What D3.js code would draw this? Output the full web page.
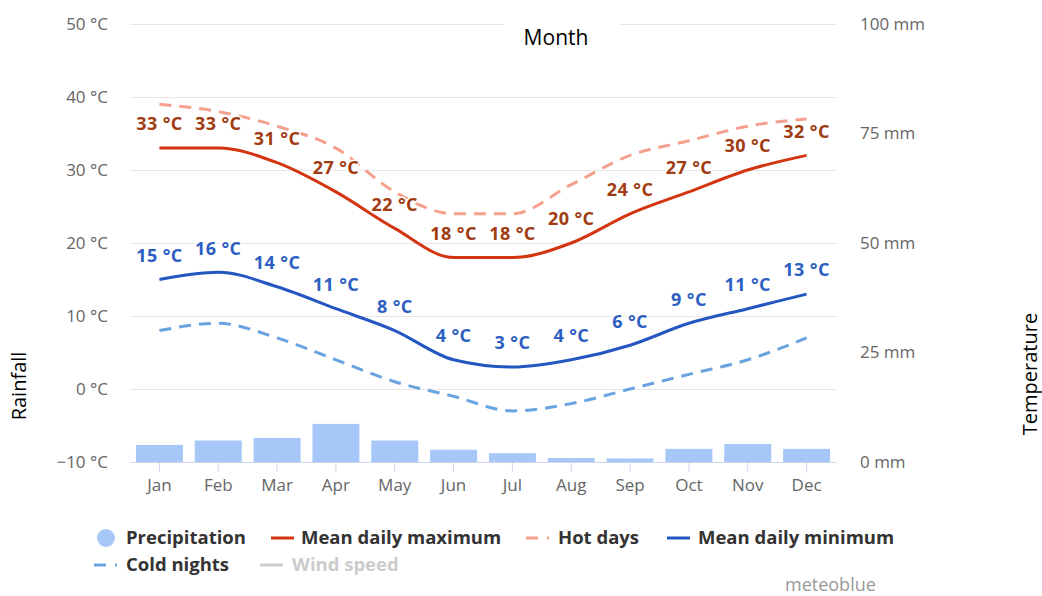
<!DOCTYPE html>
<html>
<head>
<meta charset="utf-8">
<script src="https://cdn.jsdelivr.net/npm/d3@7"></script>
<style>
  html, body { margin: 0; padding: 0; background: #fff; }
  svg { display: block; font-family: "Open Sans", sans-serif; }
</style>
</head>
<body>
<svg id="chart" width="1042" height="596"></svg>
<script>
const months = ["Jan","Feb","Mar","Apr","May","Jun","Jul","Aug","Sep","Oct","Nov","Dec"];
const precipitation = [3.9, 4.9, 5.5, 8.7, 4.9, 2.8, 2.0, 0.9, 0.8, 3.0, 4.1, 3.0];
const meanMax = [33, 33, 31, 27, 22, 18, 18, 20, 24, 27, 30, 32];
const hotDays = [39, 38, 36, 33, 27, 24, 24, 28, 32, 34, 36, 37];
const meanMin = [15, 16, 14, 11, 8, 4, 3, 4, 6, 9, 11, 13];
const coldNights = [8, 9, 7, 4, 1, -1, -3, -2, 0, 2, 4, 7];
const tempTicks = [-10, 0, 10, 20, 30, 40, 50];
const rainTicks = [0, 25, 50, 75, 100];

const svg = d3.select("#chart");
const plotLeft = 130, plotRight = 836, plotTop = 24, plotBottom = 462;

const xBand = d3.scaleBand().domain(months).range([plotLeft, plotRight]);
const xm = d => xBand(d) + xBand.bandwidth() / 2;
const yT = d3.scaleLinear().domain([-10, 50]).range([plotBottom, plotTop]);
const yR = d3.scaleLinear().domain([0, 100]).range([plotBottom, plotTop]);

// gridlines
svg.append("g").selectAll("line").data(tempTicks.filter(t => t > -10)).join("line")
  .attr("x1", plotLeft).attr("x2", plotRight)
  .attr("y1", d => yT(d) + 0.5).attr("y2", d => yT(d) + 0.5)
  .attr("stroke", "#e6e6e6").attr("stroke-width", 1);

// left axis labels
svg.append("g").selectAll("text").data(tempTicks).join("text")
  .attr("x", 108).attr("y", d => yT(d)).attr("dy", "0.35em")
  .attr("text-anchor", "end").attr("fill", "#666").attr("font-size", 17)
  .text(d => (d < 0 ? "\u2212" + Math.abs(d) : d) + " °C");

// right axis labels
svg.append("g").selectAll("text").data(rainTicks).join("text")
  .attr("x", 860).attr("y", d => yR(d)).attr("dy", "0.35em")
  .attr("text-anchor", "start").attr("fill", "#666").attr("font-size", 17)
  .text(d => d + " mm");

// bars
const bw = 47;
svg.append("g").selectAll("rect").data(months).join("rect")
  .attr("x", (d) => xm(d) - bw / 2)
  .attr("width", bw)
  .attr("y", (d, i) => yR(precipitation[i]))
  .attr("height", (d, i) => yR(0) - yR(precipitation[i]))
  .attr("fill", "#a6c7f7");

// x axis
svg.append("line").attr("x1", plotLeft).attr("x2", plotRight).attr("y1", plotBottom + 0.5).attr("y2", plotBottom + 0.5)
  .attr("stroke", "#ccd6eb").attr("stroke-width", 1);
svg.append("g").selectAll("line").data(months).join("line")
  .attr("x1", d => xm(d)).attr("x2", d => xm(d)).attr("y1", plotBottom).attr("y2", plotBottom + 10)
  .attr("stroke", "#ccd6eb");
svg.append("g").selectAll("text").data(months).join("text")
  .attr("x", d => xm(d)).attr("y", 485).attr("dy", "0.35em")
  .attr("text-anchor", "middle").attr("fill", "#666").attr("font-size", 17)
  .text(d => d);

// lines
const line = d3.line().x((d, i) => xm(months[i])).y(d => yT(d)).curve(d3.curveMonotoneX);
function drawLine(data, color, dash) {
  svg.append("path").attr("d", line(data)).attr("fill", "none")
    .attr("stroke", color).attr("stroke-width", 3)
    .attr("stroke-dasharray", dash || null).attr("stroke-linecap", "butt");
}
drawLine(hotDays, "#f5a08c", "12,8");
drawLine(coldNights, "#6aa4e0", "12,8");
drawLine(meanMax, "#d33511");
drawLine(meanMin, "#2456c2");

// data labels
function drawLabels(data, color) {
  svg.append("g").selectAll("text").data(data).join("text")
    .attr("x", (d, i) => xm(months[i])).attr("y", d => yT(d) - 24).attr("dy", "0.35em")
    .attr("text-anchor", "middle").attr("fill", color)
    .attr("font-size", 18).attr("font-weight", "bold").attr("letter-spacing", 0.4)
    .attr("stroke", "#fff").attr("stroke-width", 3).attr("paint-order", "stroke")
    .attr("stroke-linejoin", "round")
    .text(d => d + " °C");
}
drawLabels(meanMax, "#a13b12");
drawLabels(meanMin, "#2d5fc2");

// title
svg.append("rect").attr("x", 503).attr("y", 14).attr("width", 116).attr("height", 44).attr("fill", "#fff");
svg.append("text").attr("x", 556).attr("y", 38).attr("dy", "0.35em").attr("text-anchor", "middle")
  .attr("font-size", 21).attr("fill", "#000").text("Month");

// axis titles
svg.append("text").attr("transform", "translate(19,386) rotate(-90)").attr("dy", "0.35em")
  .attr("text-anchor", "middle").attr("font-size", 20).attr("fill", "#000").text("Rainfall");
svg.append("text").attr("transform", "translate(1030,374) rotate(-90)").attr("dy", "0.35em")
  .attr("text-anchor", "middle").attr("font-size", 20).attr("fill", "#000").text("Temperature");

// legend
const legend = svg.append("g").attr("font-size", 18.5).attr("font-weight", "bold");
const legendItems = [
  {name: "Precipitation", type: "circle", color: "#a6c7f7", sx: 97, tx: 126, y: 538, tc: "#333"},
  {name: "Mean daily maximum", type: "line", color: "#d33511", sx: 271, tx: 301, y: 538, tc: "#333"},
  {name: "Hot days", type: "dash", color: "#f5a08c", sx: 526, tx: 558, y: 538, tc: "#333"},
  {name: "Mean daily minimum", type: "line", color: "#2456c2", sx: 667, tx: 698, y: 538, tc: "#333"},
  {name: "Cold nights", type: "dash", color: "#6aa4e0", sx: 94, tx: 126, y: 565, tc: "#333"},
  {name: "Wind speed", type: "line", color: "#cccccc", sx: 260, tx: 292, y: 565, tc: "#cccccc"}
];
legendItems.forEach(it => {
  if (it.type === "circle") {
    legend.append("circle").attr("cx", it.sx + 9).attr("cy", it.y).attr("r", 9).attr("fill", it.color);
  } else if (it.type === "line") {
    legend.append("line").attr("x1", it.sx).attr("x2", it.sx + 23).attr("y1", it.y).attr("y2", it.y)
      .attr("stroke", it.color).attr("stroke-width", 3);
  } else {
    legend.append("line").attr("x1", it.sx).attr("x2", it.sx + 12).attr("y1", it.y).attr("y2", it.y)
      .attr("stroke", it.color).attr("stroke-width", 3);
    legend.append("line").attr("x1", it.sx + 21).attr("x2", it.sx + 23).attr("y1", it.y).attr("y2", it.y)
      .attr("stroke", it.color).attr("stroke-width", 3);
  }
  legend.append("text").attr("x", it.tx).attr("y", it.y).attr("dy", "0.35em")
    .attr("fill", it.tc).text(it.name);
});

// credit
svg.append("text").attr("x", 785).attr("y", 591)
  .attr("font-size", 18).attr("fill", "#999").text("meteoblue");
</script>
</body>
</html>
